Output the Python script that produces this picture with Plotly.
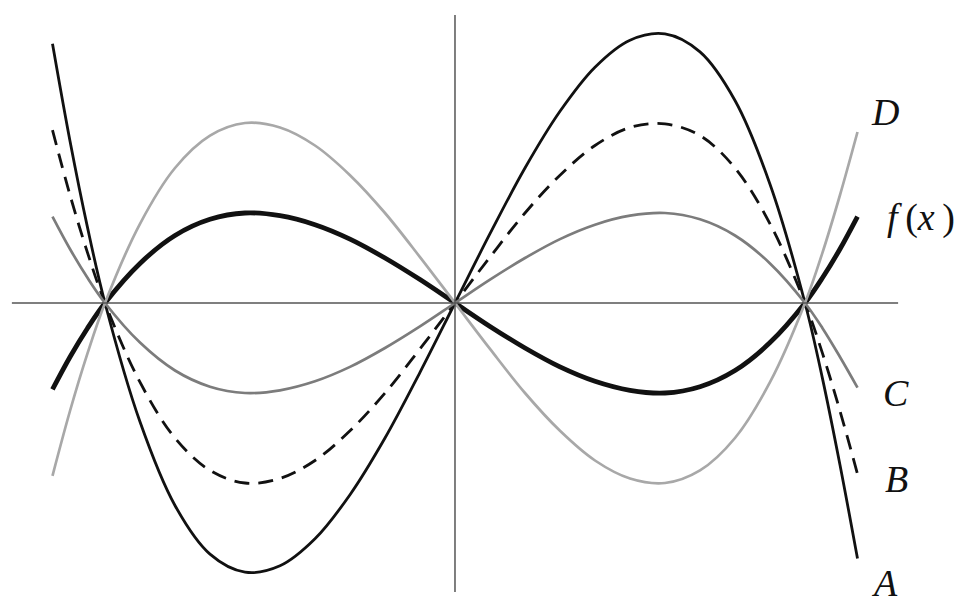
import plotly.graph_objects as go

x_vals = [-1.15, -1.1, -1.05, -1.0, -0.9, -0.8, -0.7, -0.6, -0.5, -0.4, -0.3, -0.2, -0.1,
          0.0, 0.1, 0.2, 0.3, 0.4, 0.5, 0.6, 0.7, 0.8, 0.9, 1.0, 1.05, 1.1, 1.15]

# values (unit = peak height of f)
f_vals = [-0.96, -0.60, -0.28, 0.0, 0.44, 0.75, 0.93, 1.00, 0.97, 0.87, 0.71, 0.50, 0.26,
          0.0, -0.26, -0.50, -0.71, -0.87, -0.97, -1.00, -0.93, -0.75, -0.44, 0.0, 0.28, 0.60, 0.96]
a_vals = [2.88, 1.80, 0.84, 0.0, -1.32, -2.25, -2.79, -2.99, -2.92, -2.62, -2.13, -1.50, -0.77,
          0.0, 0.77, 1.50, 2.13, 2.62, 2.92, 2.99, 2.79, 2.25, 1.32, 0.0, -0.84, -1.80, -2.84]
b_vals = [1.92, 1.20, 0.56, 0.0, -0.88, -1.50, -1.86, -2.00, -1.95, -1.75, -1.42, -1.00, -0.51,
          0.0, 0.51, 1.00, 1.42, 1.75, 1.95, 1.99, 1.86, 1.50, 0.88, 0.0, -0.56, -1.20, -1.90]
c_vals = [0.96, 0.60, 0.28, 0.0, -0.44, -0.75, -0.93, -1.00, -0.97, -0.87, -0.71, -0.50, -0.26,
          0.0, 0.26, 0.50, 0.71, 0.87, 0.97, 1.00, 0.93, 0.75, 0.44, 0.0, -0.28, -0.60, -0.94]
d_vals = [-1.92, -1.20, -0.56, 0.0, 0.88, 1.50, 1.86, 2.00, 1.95, 1.75, 1.42, 1.00, 0.51,
          0.0, -0.51, -1.00, -1.42, -1.75, -1.95, -2.00, -1.86, -1.50, -0.88, 0.0, 0.56, 1.20, 1.90]

curve_labels = ['D', '<i>f</i>\u2009(<i>x</i>\u2009)', 'C', 'B', 'A']
label_x = [1.229, 1.33, 1.26, 1.26, 1.226]
label_y = [2.12, 0.95, -1.0, -1.956, -3.372]
label_anchor = ['middle', 'middle', 'middle', 'middle', 'bottom']

fig = go.Figure()

# axes through the origin
axis_col = '#555555'
fig.add_shape(type='line', x0=-1.266, x1=1.266, y0=0, y1=0,
              line=dict(color=axis_col, width=1.5))
fig.add_shape(type='line', x0=0, x1=0, y0=-3.21, y1=3.2,
              line=dict(color=axis_col, width=1.5))

fig.add_trace(go.Scatter(x=x_vals, y=a_vals, mode='lines', line_shape='spline',
                         line=dict(color='#111111', width=2.8)))
fig.add_trace(go.Scatter(x=x_vals, y=b_vals, mode='lines', line_shape='spline',
                         line=dict(color='#111111', width=2.8, dash='15px,9px')))
fig.add_trace(go.Scatter(x=x_vals, y=f_vals, mode='lines', line_shape='spline',
                         line=dict(color='#111111', width=4.8)))
fig.add_trace(go.Scatter(x=x_vals, y=c_vals, mode='lines', line_shape='spline',
                         line=dict(color='#7c7c7c', width=2.7)))
fig.add_trace(go.Scatter(x=x_vals, y=d_vals, mode='lines', line_shape='spline',
                         line=dict(color='#a8a8a8', width=2.7)))

for lab, lx, ly, ya in zip(curve_labels, label_x, label_y, label_anchor):
    txt = lab if lab.startswith('<') else '<i>' + lab + '</i>'
    fig.add_annotation(x=lx, y=ly, text=txt, showarrow=False, yanchor=ya,
                       font=dict(family='Liberation Serif', size=38, color='#111111'))

# page body has an 8px margin, so the figure is a bit smaller than the window
fig.update_xaxes(range=[-1.2771, 1.44], visible=False)
fig.update_yaxes(range=[-3.3778, 3.2778], visible=False)
fig.update_layout(width=951, height=599, showlegend=False,
                  plot_bgcolor='white', paper_bgcolor='white',
                  margin=dict(l=0, r=0, t=0, b=0))

fig.write_html("out.html")
